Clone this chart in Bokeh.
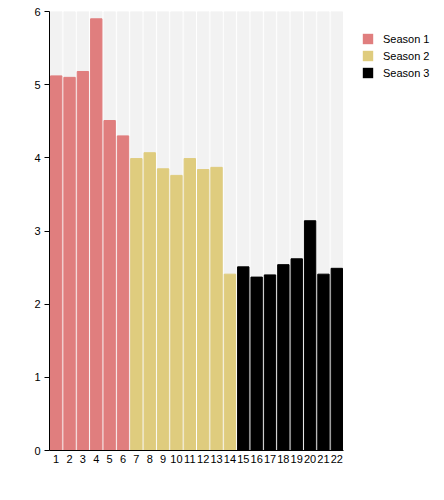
from bokeh.plotting import figure
from bokeh.models import ColumnDataSource, Legend, LegendItem, FixedTicker, Range1d
from bokeh.layouts import row
from bokeh.embed import file_html
from bokeh.resources import INLINE

episodes = list(range(1, 23))
seasons = ["Season 1"] * 6 + ["Season 2"] * 8 + ["Season 3"] * 8
ratings = [5.12, 5.10, 5.18, 5.90, 4.51, 4.30,
           3.99, 4.07, 3.85, 3.76, 3.99, 3.84, 3.87, 2.41,
           2.51, 2.37, 2.40, 2.54, 2.62, 3.14, 2.41, 2.49]
season_names = ["Season 1", "Season 2", "Season 3"]
season_colors = ["#e07e7e", "#dfcc7e", "#000000"]
y_ticks = [0, 1, 2, 3, 4, 5, 6]
y_max = 6

cmap = dict(zip(season_names, season_colors))
src = ColumnDataSource(dict(x=episodes, top=ratings, season=seasons,
                            color=[cmap[s] for s in seasons],
                            bg=[y_max] * len(episodes)))

FW, FH = 294, 439
BL, BT, BB, BR = 49, 11, 25, 6
H = BT + FH + BB
p = figure(width=BL + FW + BR, height=H, output_backend="svg", toolbar_location=None,
           x_range=Range1d(0.5, len(episodes) + 0.5), y_range=Range1d(0, y_max),
           min_border_left=BL, min_border_top=BT, min_border_bottom=BB, min_border_right=BR)
p.outline_line_color = None
p.xgrid.visible = False
p.ygrid.visible = False

p.vbar(x="x", top="bg", bottom=0, width=0.85, source=src, color="#f2f2f2")
p.vbar(x="x", top="top", bottom=0, width=0.85, source=src, color="color")

font = "Liberation Sans"
p.xaxis.ticker = FixedTicker(ticks=episodes)
p.xaxis.minor_tick_line_color = None
p.xaxis.major_tick_out = 0
p.xaxis.major_tick_in = 0
p.xaxis.major_label_standoff = 4
p.yaxis.ticker = FixedTicker(ticks=y_ticks)
p.yaxis.minor_tick_line_color = None
p.yaxis.major_tick_in = 0
p.yaxis.major_tick_out = 5
p.yaxis.major_label_standoff = 4
for ax in (p.xaxis, p.yaxis):
    ax.axis_line_color = "black"
    ax.major_label_text_font = font
    ax.major_label_text_font_size = "11px"
    ax.major_label_text_color = "black"
p.yaxis.major_tick_line_color = "black"
p.xaxis.major_tick_line_color = None

# legend panel
LW = 438 - p.width
lg = figure(width=LW, height=H, output_backend="svg", toolbar_location=None,
            min_border_left=0, min_border_right=0,
            min_border_top=BT, min_border_bottom=BB,
            x_range=Range1d(0, 1), y_range=Range1d(0, 1))
lg.outline_line_color = None
lg.axis.visible = False
lg.grid.visible = False
items = []
for name, col in zip(season_names, season_colors):
    rr = lg.vbar(x=[0], top=[0], bottom=0, width=0, fill_color=col, line_color=None)
    items.append(LegendItem(label=name, renderers=[rr]))
legend_h = 3 * 13 + 2 * 4
legend = Legend(items=items, location=(18 - BR, FH - 21 - legend_h),
                margin=0, padding=0,
                border_line_color=None, background_fill_alpha=0,
                glyph_width=13, glyph_height=13, spacing=4, label_standoff=9,
                label_text_font=font, label_text_font_size="11px",
                label_text_color="black", label_height=13)
lg.add_layout(legend, "center")

layout = row(p, lg, spacing=0)
open("out.html", "w").write(file_html(layout, INLINE))
